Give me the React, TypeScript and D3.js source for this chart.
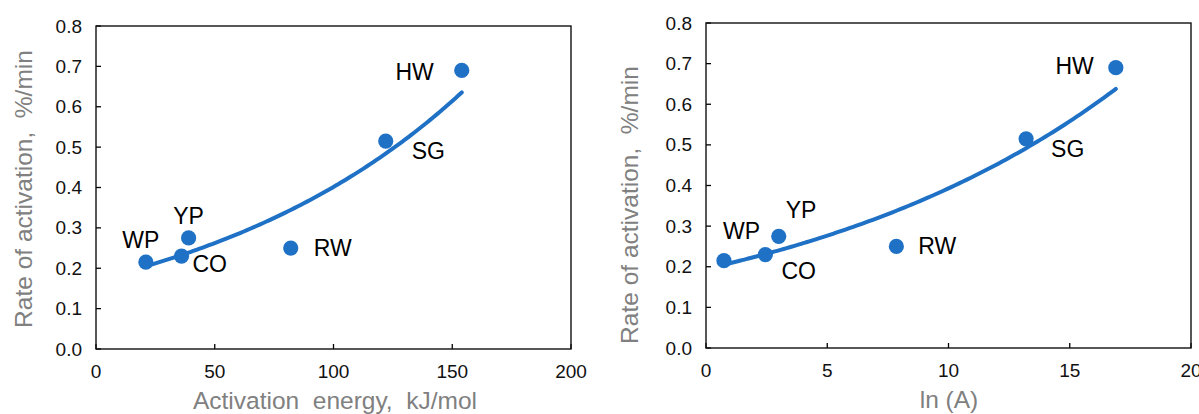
import React from "react";
import * as d3 from "d3";

// Sample codes and measured values
const SAMPLES = ["WP", "CO", "YP", "RW", "SG", "HW"];
const ACTIVATION_ENERGY = [21, 36, 39, 82, 122, 154]; // kJ/mol
const LN_A = [0.74, 2.45, 3.0, 7.85, 13.2, 16.9];
const RATE = [0.215, 0.23, 0.275, 0.25, 0.515, 0.69]; // %/min

const X_TICKS_EA = [0, 50, 100, 150, 200];
const X_TICKS_LNA = [0, 5, 10, 15, 20];
const Y_TICKS = [0, 0.1, 0.2, 0.3, 0.4, 0.5, 0.6, 0.7, 0.8];

const BLUE = "#1f71c6";
const FONT = "Liberation Sans, Arial, sans-serif";

type LabelPos = { dx: number; dy: number; anchor: "start" | "middle" | "end" };

// Exponential least-squares fit (linear regression on ln y)
function expFit(xs: number[], ys: number[]) {
  const ly = ys.map((v) => Math.log(v));
  const mx = d3.mean(xs)!;
  const my = d3.mean(ly)!;
  let sxy = 0;
  let sxx = 0;
  xs.forEach((x, i) => {
    sxy += (x - mx) * (ly[i] - my);
    sxx += (x - mx) * (x - mx);
  });
  const b = sxy / sxx;
  const a = Math.exp(my - b * mx);
  return (x: number) => a * Math.exp(b * x);
}

interface PanelProps {
  xs: number[];
  xDomain: [number, number];
  xTicks: number[];
  left: number;
  right: number;
  top: number;
  bottom: number;
  xTitle: string;
  xTitleX: number;
  yTitleX: number;
  yTitleY: number;
  labels: Record<string, LabelPos>;
}

function Panel(p: PanelProps) {
  const x = d3.scaleLinear().domain(p.xDomain).range([p.left, p.right]);
  const y = d3.scaleLinear().domain([0, 0.8]).range([p.bottom, p.top]);
  const fit = expFit(p.xs, RATE);
  const [xmin, xmax] = d3.extent(p.xs) as [number, number];
  const curveXs = d3.range(0, 101).map((i) => xmin + ((xmax - xmin) * i) / 100);
  const line = d3
    .line<number>()
    .x((v) => x(v))
    .y((v) => y(fit(v)))
    .curve(d3.curveMonotoneX);
  const tick = 5;
  return (
    <g>
      {/* y ticks and labels */}
      {Y_TICKS.map((t) => (
        <g key={"y" + t}>
          <line x1={p.left} x2={p.left + tick} y1={y(t)} y2={y(t)} stroke="#000" strokeWidth={1.3} />
          <text
            x={p.left - 14}
            y={y(t)}
            textAnchor="end"
            dominantBaseline="central"
            fontSize={19}
            fontFamily={FONT}
            fill="#111"
          >
            {t.toFixed(1)}
          </text>
        </g>
      ))}
      {/* x ticks and labels */}
      {p.xTicks.map((t) => (
        <g key={"x" + t}>
          <line x1={x(t)} x2={x(t)} y1={p.bottom} y2={p.bottom - tick} stroke="#000" strokeWidth={1.3} />
          <text
            x={x(t)}
            y={p.bottom + 22}
            textAnchor="middle"
            dominantBaseline="central"
            fontSize={19}
            fontFamily={FONT}
            fill="#111"
          >
            {t}
          </text>
        </g>
      ))}
      {/* plot frame */}
      <rect
        x={p.left}
        y={p.top}
        width={p.right - p.left}
        height={p.bottom - p.top}
        fill="none"
        stroke="#111"
        strokeWidth={1.4}
      />
      {/* exponential trend line */}
      <path d={line(curveXs) || ""} fill="none" stroke={BLUE} strokeWidth={4} strokeLinecap="round" />
      {/* data points */}
      {p.xs.map((v, i) => (
        <circle key={"p" + i} cx={x(v)} cy={y(RATE[i])} r={7.6} fill={BLUE} />
      ))}
      {/* point labels */}
      {p.xs.map((v, i) => {
        const lp = p.labels[SAMPLES[i]];
        return (
          <text
            key={"l" + i}
            x={x(v) + lp.dx}
            y={y(RATE[i]) + lp.dy}
            textAnchor={lp.anchor}
            dominantBaseline="central"
            fontSize={23}
            fontFamily={FONT}
            fill="#000"
          >
            {SAMPLES[i]}
          </text>
        );
      })}
      {/* axis titles */}
      <text
        x={p.xTitleX}
        y={p.bottom + 51}
        textAnchor="middle"
        dominantBaseline="central"
        fontSize={24.5}
        fontFamily={FONT}
        fill="#808080"
        style={{ whiteSpace: "pre" }}
      >
        {p.xTitle}
      </text>
      <text
        transform={`translate(${p.yTitleX},${p.yTitleY}) rotate(-90)`}
        textAnchor="middle"
        dominantBaseline="central"
        fontSize={24.5}
        fontFamily={FONT}
        fill="#808080"
        style={{ whiteSpace: "pre" }}
      >
        {"Rate of activation,  %/min"}
      </text>
    </g>
  );
}

const LEFT_LABELS: Record<string, LabelPos> = {
  WP: { dx: -5, dy: -22, anchor: "middle" },
  CO: { dx: 11, dy: 8, anchor: "start" },
  YP: { dx: 0, dy: -22, anchor: "middle" },
  RW: { dx: 23, dy: 0, anchor: "start" },
  SG: { dx: 26, dy: 10, anchor: "start" },
  HW: { dx: -28, dy: 2, anchor: "end" },
};

const RIGHT_LABELS: Record<string, LabelPos> = {
  WP: { dx: -1, dy: -30, anchor: "start" },
  CO: { dx: 16, dy: 16, anchor: "start" },
  YP: { dx: 7, dy: -26, anchor: "start" },
  RW: { dx: 22, dy: 0, anchor: "start" },
  SG: { dx: 25, dy: 10, anchor: "start" },
  HW: { dx: -22, dy: -2, anchor: "end" },
};

export default function App() {
  return (
    <svg
      width={1199}
      height={414}
      style={{ position: "absolute", left: 0, top: 0, background: "#fff" }}
    >
      <rect width={1199} height={414} fill="#fff" />
      <Panel
        xs={ACTIVATION_ENERGY}
        xDomain={[0, 200]}
        xTicks={X_TICKS_EA}
        left={96}
        right={571}
        top={26}
        bottom={349}
        xTitle="Activation  energy,  kJ/mol"
        xTitleX={335}
        yTitleX={23}
        yTitleY={189}
        labels={LEFT_LABELS}
      />
      <Panel
        xs={LN_A}
        xDomain={[0, 20]}
        xTicks={X_TICKS_LNA}
        left={706}
        right={1191}
        top={23}
        bottom={348}
        xTitle="ln (A)"
        xTitleX={949}
        yTitleX={629}
        yTitleY={205}
        labels={RIGHT_LABELS}
      />
    </svg>
  );
}
